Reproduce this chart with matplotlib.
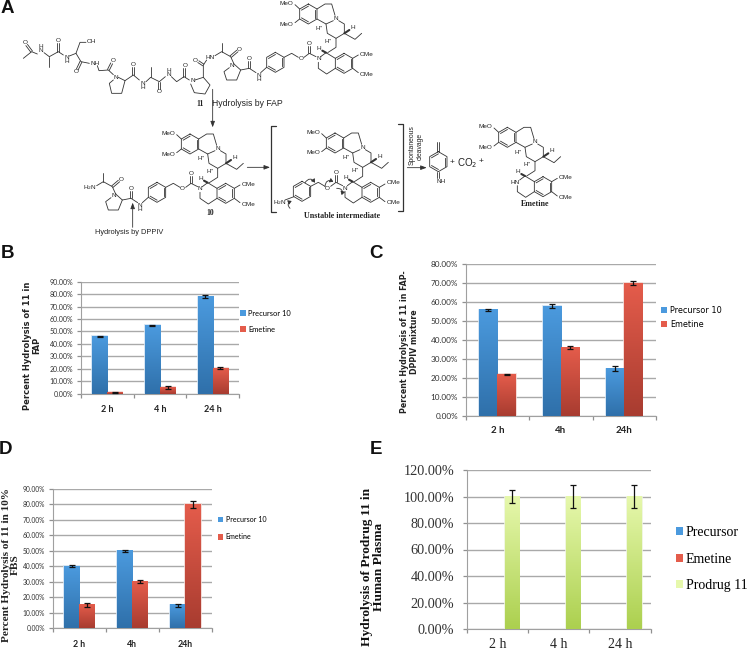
import numpy as np
import matplotlib
matplotlib.use("Agg")
import matplotlib.pyplot as plt
from matplotlib.colors import LinearSegmentedColormap as LSC

W, H = 750, 651
categories_b = ["2 h", "4 h", "24 h"]
precursor_b = [46, 55, 78]
emetine_b = [1, 5, 20.5]
precursor_b_err = [0.5, 0.3, 1]
emetine_b_err = [0.3, 1, 1]

categories_c = ["2 h", "4h", "24h"]
precursor_c = [56, 58, 25]
emetine_c = [22, 36, 70]
precursor_c_err = [0.5, 1, 1.2]
emetine_c_err = [0.4, 0.8, 1]

categories_d = ["2 h", "4h", "24h"]
precursor_d = [40, 50, 15]
emetine_d = [15, 30, 80]
precursor_d_err = [0.7, 0.8, 1]
emetine_d_err = [1.2, 1, 2]

categories_e = ["2 h", "4 h", "24 h"]
precursor_e = [0, 0, 0]
emetine_e = [0, 0, 0]
prodrug_e = [100, 100, 100]
prodrug_e_err = [5, 9, 9]

BLUE = ("#2f70aa", "#4b9ade", "#cfe2f3")
RED = ("#a83c30", "#e45c4b", "#f3d6d2")
GREEN = ("#acd04f", "#e6f8ac", "#eef5dc")

fig = plt.figure(figsize=(W / 100, H / 100), dpi=100)


def axes_px(l, t, r, b):
    return fig.add_axes([l / W, 1 - b / H, (r - l) / W, (b - t) / H])


def grouped(ax, cats, series, width, ymax, step, font, tick_size, cat_size, cat_weight, cat_px, pad):
    n = len(series)
    x = np.arange(len(cats))
    for i, (label, vals, errs, cols) in enumerate(series):
        pos = x + (i - (n - 1) / 2) * width
        cmap = LSC.from_list("g", cols[:2])
        bars = ax.bar(pos, vals, width, color=cols[1], zorder=2,
                      edgecolor=cols[2], linewidth=[1.2 if v > 0 else 0 for v in vals])
        ax.bar([0], [0], 0, color=cols[1], label=label, linewidth=0)
        for r in bars:
            if r.get_height() > 0:
                ax.imshow(np.linspace(1, 0, 64)[:, None], cmap=cmap, aspect="auto", zorder=3,
                          extent=[r.get_x(), r.get_x() + r.get_width(), 0, r.get_height()])
        if errs is not None:
            ax.errorbar(pos, vals, yerr=errs, fmt="none", ecolor="#111111", elinewidth=0.9,
                        capsize=2.2, capthick=0.9, zorder=4)
    ax.set_xlim(-0.5, len(cats) - 0.5)
    ax.set_ylim(0, ymax)
    ax.set_xticks(np.arange(len(cats) + 1) - 0.5)
    ax.set_xticklabels([""] * (len(cats) + 1))
    for xi, c in zip(x, cats):
        ax.annotate(c, (xi, 0), xycoords=("data", "axes fraction"), xytext=(0, -cat_px * 0.72),
                    textcoords="offset points", ha="center", va="center",
                    fontsize=cat_size, fontweight=cat_weight, family=font, color="#222222")
    ticks = np.arange(0, ymax + 0.1, step)
    ax.set_yticks(ticks)
    ax.set_yticklabels([f"{t:.2f}%" for t in ticks], fontsize=tick_size, family=font, color="#333333")
    ax.grid(axis="y", color="#a9a9a9", lw=1, zorder=1)
    ax.set_axisbelow(True)
    ax.tick_params(axis="both", color="#909090", length=3, width=0.9)
    ax.tick_params(axis="y", pad=pad)
    for s in ("top", "right"):
        ax.spines[s].set_visible(False)
    for s in ("left", "bottom"):
        ax.spines[s].set_color("#a0a0a0")


def legend(ax, fx, fy, font, size, ls, hl=0.8, hh=0.8, tp=0.3):
    ax.legend(loc="center left", bbox_to_anchor=(fx, fy), frameon=False, prop={"family": font, "size": size},
              handlelength=hl, handleheight=hh, handletextpad=tp, labelspacing=ls, borderpad=0, borderaxespad=0)


# panel B
axb = axes_px(81, 281.7, 239, 393.7)
grouped(axb, categories_b,
        [("Precursor 10", precursor_b, precursor_b_err, BLUE), ("Emetine", emetine_b, emetine_b_err, RED)],
        0.287, 90, 10, "Lato", 5.0, 6.5, "bold", 15.5, 2.5)
legend(axb, 1.006, 0.649, "Lato", 5.4, 1.2)
fig.text(32 / W, 1 - 345.5 / H, "Percent Hydrolysis of 11 in\nFAP", rotation=90, ha="center", va="center",
         fontsize=6.0, fontweight="bold", family="DejaVu Sans", linespacing=1.0, color="#222222")

# panel C
axc = axes_px(465.7, 264.3, 656, 416)
grouped(axc, categories_c,
        [("Precursor 10", precursor_c, precursor_c_err, BLUE), ("Emetine", emetine_c, emetine_c_err, RED)],
        0.287, 80, 10, "Lato", 5.9, 7.0, "bold", 14.3, 2.5)
legend(axc, 1.025, 0.652, "DejaVu Sans", 5.9, 0.6)
fig.text(409.5 / W, 1 - 342 / H, "Percent Hydrolysis of 11 in FAP-\nDPPIV mixture", rotation=90, ha="center", va="center",
         fontsize=5.7, fontweight="bold", family="DejaVu Sans", linespacing=1.25, color="#222222")

# panel D
axd = axes_px(52.7, 489, 212, 628.3)
grouped(axd, categories_d,
        [("Precursor 10", precursor_d, precursor_d_err, BLUE), ("Emetine", emetine_d, emetine_d_err, RED)],
        0.285, 90, 10, "Lato", 4.8, 6.3, "bold", 16, 2.5)
legend(axd, 1.036, 0.72, "Lato", 5.1, 1.5)
fig.text(11 / W, 1 - 565 / H, "Percent Hydrolysis of 11 in 10%\nFBS", rotation=90, ha="center", va="center",
         fontsize=8.1, fontweight="bold", family="Liberation Serif", linespacing=1.0, color="#222222")

# panel E
axe = axes_px(466.7, 470, 650.7, 629)
grouped(axe, categories_e,
        [("Precursor", precursor_e, None, BLUE), ("Emetine", emetine_e, None, RED),
         ("Prodrug 11", prodrug_e, prodrug_e_err, GREEN)],
        0.234, 120, 20, "Liberation Serif", 10.3, 10, "normal", 16, 6)
legend(axe, 1.136, 0.44, "Liberation Serif", 10.0, 0.95, hl=0.5, hh=0.5, tp=0.22)
fig.text(373 / W, 1 - 567 / H, "Hydrolysis of Prodrug 11 in\nHuman Plasma", rotation=90, ha="center", va="center",
         fontsize=9.6, fontweight="bold", family="Liberation Serif", linespacing=1.05, color="#111111")

# panel letters
for letter, px, py in [("A", 7.5, 8.5), ("B", 7, 254), ("C", 376, 254), ("D", 6, 449), ("E", 376, 449)]:
    fig.text(px / W, 1 - py / H, letter, fontsize=13.5, fontweight="bold", family="Liberation Sans",
             ha="center", va="center", color="#111111")

# scheme overlay, in thirds of a pixel
sch = fig.add_axes([0, 0, 1, 1], zorder=-1)
sch.set_xlim(0, 2250)
sch.set_ylim(1953, 0)
sch.axis("off")
LC = "#333333"


def line(*pts, lw=0.6):
    xs, ys = zip(*pts)
    sch.plot(xs, ys, color=LC, lw=lw, solid_capstyle="round")


def label(x, y, s, size=4.6, **kw):
    sch.text(x, y, s, fontsize=size, family=kw.pop("family", "Liberation Sans"), ha="center", va="center",
             color="#222222", **kw)


def hexagon(cx, cy, r=30, inner=True):
    a = np.deg2rad(np.arange(90, 451, 60))
    px, py = cx + r * np.cos(a), cy - r * np.sin(a)
    sch.plot(px, py, color=LC, lw=0.6)
    if inner:
        f = 0.78
        for i in (0, 2, 4):
            sch.plot([cx + f * r * np.cos(a[i]), cx + f * r * np.cos(a[i + 1])],
                     [cy - f * r * np.sin(a[i]), cy - f * r * np.sin(a[i + 1])], color=LC, lw=0.6)


def double(x0, y0, x1, y1, gap=3):
    d = np.array([y1 - y0, x0 - x1], float)
    d = d / np.hypot(*d) * gap
    line((x0 - d[0], y0 - d[1]), (x1 - d[0], y1 - d[1]))
    line((x0 + d[0], y0 + d[1]), (x1 + d[0], y1 + d[1]))


def alkaloid(dx, dy, nh=False):
    o = lambda *p: [(a + dx, b + dy) for a, b in p]
    hexagon(175 + dx, 42 + dy)
    line(*o((201, 27), (225, 12), (245, 12), (255, 46)))
    line(*o((201, 57), (228, 72), (250, 62)))
    line(*o((266, 62), (283, 72), (283, 100), (258, 115), (232, 100), (228, 72)))
    line(*o((283, 100), (315, 118), (335, 100)))
    line(*o((283, 100), (298, 90)), lw=1.5)
    line(*o((258, 115), (258, 142), (233, 158)))
    line(*o((149, 27), (135, 14)))
    line(*o((149, 57), (135, 68)))
    label(110 + dx, 10 + dy, "MeO")
    label(110 + dx, 72 + dy, "MeO")
    label(258 + dx, 55 + dy, "N")
    label(308 + dx, 83 + dy, "H")
    label(207 + dx, 86 + dy, "H''", size=4.4)
    label(235 + dx, 125 + dy, "H''", size=4.4)
    label(207 + dx, 145 + dy, "H")
    line(*o((228, 158), (217, 152)), lw=1.5)
    hexagon(282 + dx, 190 + dy)
    line(*o((256, 175), (228, 158), (212, 170)))
    line(*o((205, 187), (205, 205), (230, 222), (256, 205)))
    line(*o((308, 175), (325, 165)))
    line(*o((308, 205), (325, 218)))
    label(350 + dx, 162 + dy, "OMe")
    label(350 + dx, 222 + dy, "OMe")
    label((197 if nh else 205) + dx, 177 + dy, "HN" if nh else "N")


def linker(dx, dy):
    o = lambda *p: [(a + dx, b + dy) for a, b in p]
    line(*o((198, 170), (178, 160), (162, 172)))
    line(*o((145, 172), (125, 160), (102, 172)))
    double(178 + dx, 160 + dy, 178 + dx, 138 + dy)
    label(178 + dx, 130 + dy, "O")
    label(153 + dx, 177 + dy, "O")
    hexagon(76 + dx, 187 + dy)


def tail(dx, dy):
    """Ala-Pro amide, in the coordinates of compound 11."""
    o = lambda *p: [(a + dx, b + dy) for a, b in p]
    line(*o((800, 202), (782, 218)))
    line(*o((768, 218), (748, 205), (722, 210), (702, 192), (692, 170), (665, 155), (645, 167)))
    line(*o((665, 155), (665, 128)))
    double(692 + dx, 170 + dy, 712 + dx, 153 + dy)
    label(718 + dx, 148 + dy, "O")
    double(748 + dx, 205 + dy, 748 + dx, 183 + dy)
    label(748 + dx, 175 + dy, "O")
    line(*o((688, 203), (672, 215), (680, 240), (710, 240), (722, 210)))
    label(695 + dx, 197 + dy, "N")
    label(775 + dx, 232 + dy, "N\nH", linespacing=0.8)


# compound 11
line((70, 175), (95, 155), (112, 162))
double(95, 155, 80, 135)
label(77, 128, "O")
label(122, 145, "H\nN", linespacing=0.8)
line((132, 158), (148, 170), (175, 155), (190, 165))
line((148, 170), (148, 200))
double(175, 155, 175, 130)
label(175, 123, "O")
label(200, 178, "N\nH", linespacing=0.8)
line((208, 168), (228, 160), (243, 185), (268, 190))
line((228, 160), (240, 127), (258, 127))
label(275, 125, "OH")
double(243, 185, 232, 208)
label(228, 215, "O")
label(285, 190, "NH")
line((292, 197), (297, 212), (325, 210), (340, 224))
double(325, 210, 335, 190)
label(340, 183, "O")
label(347, 232, "N")
line((340, 240), (328, 250), (335, 280), (365, 280), (375, 242), (355, 232))
line((375, 242), (400, 225), (418, 240))
double(400, 225, 400, 200)
label(400, 192, "O")
label(428, 257, "N\nH", linespacing=0.8)
line((438, 245), (452, 232), (478, 245), (496, 230))
line((452, 232), (452, 200))
double(478, 245, 478, 268)
label(478, 275, "O")
label(505, 218, "H\nN", linespacing=0.8)
line((514, 230), (530, 245), (552, 230), (568, 240))
double(552, 230, 552, 205)
label(555, 197, "O")
label(577, 243, "N")
line((572, 252), (583, 278), (615, 282), (630, 255), (610, 232), (585, 240))
line((610, 232), (610, 195), (620, 180))
double(610, 195, 595, 185)
label(586, 182, "O")
label(630, 172, "HN")
linker(750, 0)
tail(0, 0)
alkaloid(750, 0)

# compound 10
linker(395, 390)
tail(-355, 390)
alkaloid(395, 390)
label(270, 563, "H$_2$N")

# unstable intermediate
linker(830, 387)
alkaloid(830, 387)
label(840, 607, "H$_2$N")
line((855, 600), (882, 590))

# emetine
alkaloid(1347, 370, nh=True)

# quinone methide imine
hexagon(1315, 485)
double(1315, 455, 1315, 425)
double(1315, 515, 1315, 535)
label(1322, 545, "NH")
label(1355, 487, "+", size=6)
label(1402, 490, "CO$_2$", size=7)
label(1442, 485, "+", size=6)

# brackets
line((828, 377), (812, 377), (812, 635), (828, 635), lw=0.9)
line((1193, 372), (1208, 372), (1208, 632), (1193, 632), lw=0.9)


def arrow(p0, p1, style="arc3", head=0.35):
    sch.annotate("", xy=p1, xytext=p0,
                 arrowprops=dict(arrowstyle=f"-|>,head_width=0.13,head_length={head}", color=LC, lw=0.6,
                                 shrinkA=0, shrinkB=0, connectionstyle=style))


arrow((638, 268), (638, 382))
arrow((742, 502), (810, 502))
arrow((1222, 503), (1280, 503))
arrow((398, 682), (398, 608))
for p0, p1 in [((870, 625), (875, 603)), ((915, 548), (945, 548)), ((975, 560), (1000, 545)),
               ((1010, 565), (1025, 585))]:
    arrow(p0, p1, "arc3,rad=-0.7", 0.2)

label(743, 310, "Hydrolysis by FAP", size=6.2)
label(387, 697, "Hydrolysis by DPPIV", size=5.3)
label(1235, 435, "Spontaneous", size=4.9, rotation=90)
label(1260, 440, "cleavage", size=4.9, rotation=90)
bold = dict(family="Liberation Serif", fontweight="bold")
label(600, 312, "11", size=5.5, **bold)
label(630, 640, "10", size=5.5, **bold)
label(1027, 648, "Unstable intermediate", size=5.8, **bold)
label(1605, 612, "Emetine", size=5.8, **bold)

fig.savefig("out.png", dpi=100)
